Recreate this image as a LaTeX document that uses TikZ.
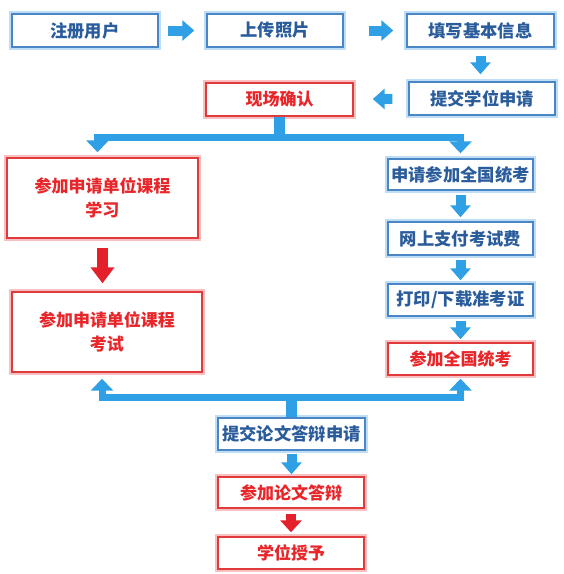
\documentclass[tikz,border=0pt]{standalone}
\usepackage{fontspec}
\setmainfont{Noto Sans CJK SC}
\usetikzlibrary{arrows.meta,calc}
\definecolor{bborder}{HTML}{4A86C5}
\definecolor{bglow}{HTML}{BFDDF5}
\definecolor{btext}{HTML}{2A5C9C}
\definecolor{rborder}{HTML}{E03A3A}
\definecolor{rglow}{HTML}{F8C0C0}
\definecolor{rtext}{HTML}{E8262A}
\definecolor{arrblue}{HTML}{2F9FE6}
\definecolor{arrred}{HTML}{E4202A}
\begin{document}
\begin{tikzpicture}[x=1pt,y=-1pt,
  bluebox/.style={draw=bborder, line width=1.4pt, fill=white, text=btext,
    preaction={draw=bglow, line width=6pt},
    font=\bfseries\fontsize{17.3}{23}\selectfont, inner sep=0pt, align=center},
  redbox/.style={draw=rborder, line width=1.4pt, fill=white, text=rtext,
    preaction={draw=rglow, line width=6pt},
    font=\bfseries\fontsize{17}{24}\selectfont, inner sep=0pt, align=center},
  barrow/.style={draw=arrblue, line width=10pt, -{Triangle[width=20pt,length=12pt]}},
  bbar/.style={draw=arrblue, line width=7pt},
  bstem/.style={draw=arrblue, line width=11pt},
  bhead/.style={draw=arrblue, line width=7pt, -{Triangle[width=22pt,length=12pt]}},
  rarrow/.style={draw=arrred, line width=11pt, -{Triangle[width=23pt,length=16pt]}},
  rarrowsmall/.style={draw=arrred, line width=10pt, -{Triangle[width=21pt,length=12pt]}}
]
\useasboundingbox (0,0) rectangle (564,574);
% row 1
\node[bluebox, minimum width=146pt, minimum height=33pt] (reg) at (85,30.5) {注册用户};
\node[bluebox, minimum width=136pt, minimum height=33pt] (photo) at (275,30.5) {上传照片};
\node[bluebox, minimum width=147pt, minimum height=33pt] (info) at (480.5,30.5) {填写基本信息};
% row 2
\node[bluebox, minimum width=146pt, minimum height=33pt] (apply) at (482,98.5) {提交学位申请};
\node[redbox, minimum width=147pt, minimum height=33pt] (confirm) at (279.5,99.5) {现场确认};
% left column
\node[redbox, minimum width=191pt, minimum height=80pt] (learn) at (102.5,198) {参加申请单位课程\\学习};
\node[redbox, minimum width=190pt, minimum height=80pt] (exam) at (107,332) {参加申请单位课程\\考试};
% right column
\node[bluebox, minimum width=145pt, minimum height=31pt] (nat) at (460.5,174.5) {申请参加全国统考};
\node[bluebox, minimum width=145pt, minimum height=33pt] (pay) at (460.5,238.5) {网上支付考试费};
\node[bluebox, minimum width=145pt, minimum height=32pt] (print) at (460.5,300) {打印/下载准考证};
\node[redbox, minimum width=145pt, minimum height=32pt] (natexam) at (460.5,359) {参加全国统考};
% bottom column
\node[bluebox, minimum width=147pt, minimum height=32pt] (thesis) at (291.5,434) {提交论文答辩申请};
\node[redbox, minimum width=146pt, minimum height=31pt] (defense) at (291,492.5) {参加论文答辩};
\node[redbox, minimum width=146pt, minimum height=32pt] (grant) at (291,553) {学位授予};
% row arrows
\draw[barrow, shorten <=9pt, shorten >=12pt] (reg) -- (photo);
\draw[barrow, shorten <=25pt, shorten >=13pt] (photo) -- (info);
\draw[barrow, shorten <=8pt, shorten >=7pt] (info.south) -- (info.south |- apply.north);
\draw[barrow, shorten <=16pt, shorten >=19pt] (apply) -- (confirm);
% top branch
\coordinate (j1) at ($(confirm.south)+(0,20.5)$);
\draw[bstem] (confirm.south) -- (j1);
\draw[bhead, shorten >=5pt] (j1) -| ([xshift=-5pt]learn.north);
\draw[bhead, shorten >=5pt] (j1) -| (nat.north);
% left red arrow
\draw[rarrow, shorten <=9pt, shorten >=8pt] (learn.south) -- (learn.south |- exam.north);
% right column arrows
\draw[barrow, shorten <=4pt, shorten >=4pt] (nat) -- (pay);
\draw[barrow, shorten <=4pt, shorten >=3pt] (pay) -- (print);
\draw[barrow, shorten <=4pt, shorten >=3pt] (print) -- (natexam);
% bottom branch
\coordinate (j2) at ($(thesis.north)+(0,-20)$);
\draw[bstem] (thesis.north) -- (j2);
\draw[bhead, shorten >=6pt] (j2) -| ([xshift=-5pt]exam.south);
\draw[bhead, shorten >=3pt] (j2) -| (natexam.south);
% bottom arrows
\draw[barrow, shorten <=3pt, shorten >=2pt] (thesis.south) -- (thesis.south |- defense.north);
\draw[rarrowsmall, shorten <=5pt, shorten >=4pt] (defense) -- (grant);
\end{tikzpicture}
\end{document}
